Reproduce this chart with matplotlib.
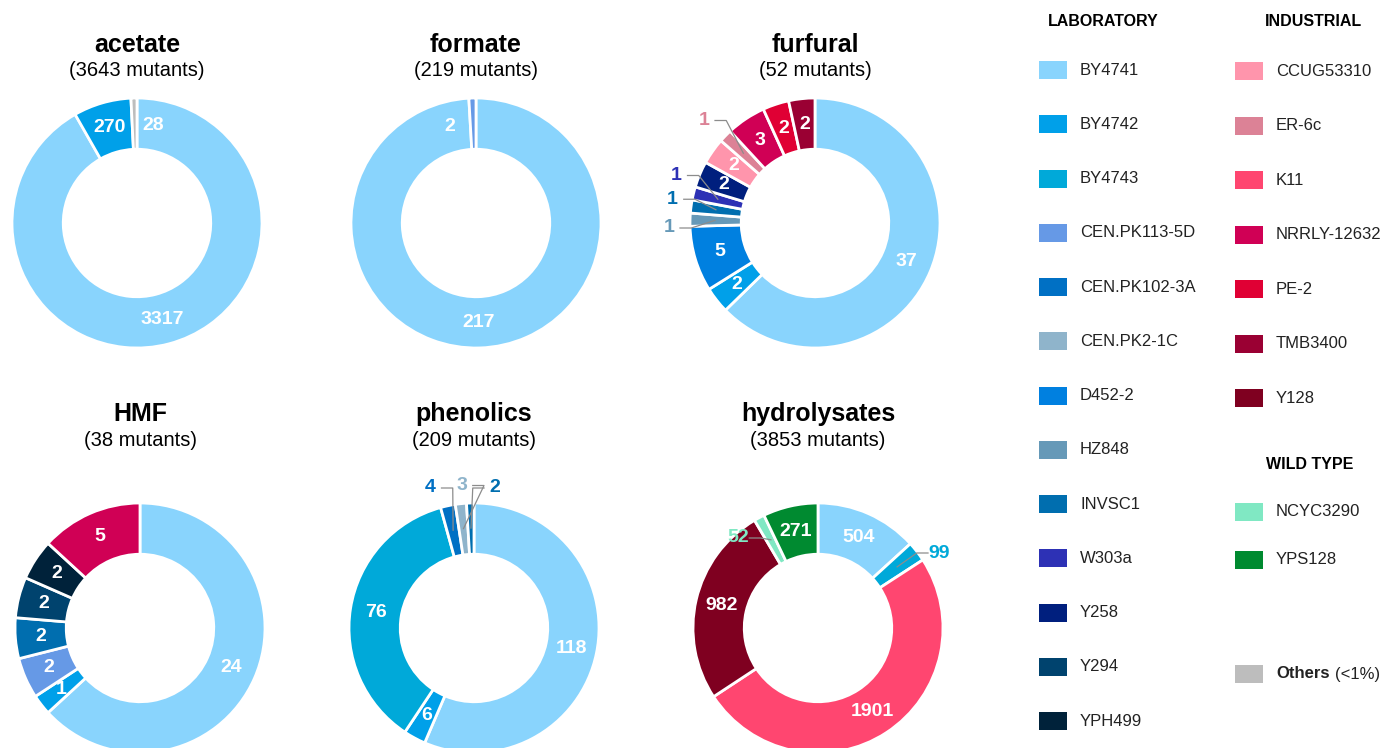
import numpy as np
import matplotlib.pyplot as plt
from matplotlib.patches import Rectangle

plt.rcParams['font.family'] = ['Liberation Sans', 'DejaVu Sans']

W, H = 1386, 748
R = 125  # outer radius of each donut, pixels

colors = {
    'BY4741': '#89d4fd', 'BY4742': '#00a0e9', 'BY4743': '#00a9d9',
    'CEN.PK113-5D': '#6699e6', 'CEN.PK102-3A': '#0070c4', 'CEN.PK2-1C': '#8fb4cb',
    'D452-2': '#0080e0', 'HZ848': '#6699b8', 'INVSC1': '#006eaf',
    'W303a': '#2d31b5', 'Y258': '#001f7e', 'Y294': '#00436e', 'YPH499': '#00223a',
    'CCUG53310': '#ff95ac', 'ER-6c': '#dc8296', 'K11': '#ff4670',
    'NRRLY-12632': '#d00055', 'PE-2': '#e00034', 'TMB3400': '#9a0033', 'Y128': '#7f0020',
    'NCYC3290': '#80e8c3', 'YPS128': '#008a30', 'Others': '#bdbdbd',
}

lab_strains = ['BY4741', 'BY4742', 'BY4743', 'CEN.PK113-5D', 'CEN.PK102-3A', 'CEN.PK2-1C',
               'D452-2', 'HZ848', 'INVSC1', 'W303a', 'Y258', 'Y294', 'YPH499']
ind_strains = ['CCUG53310', 'ER-6c', 'K11', 'NRRLY-12632', 'PE-2', 'TMB3400', 'Y128']
wild_strains = ['NCYC3290', 'YPS128']

# slices listed clockwise from 12 o'clock
acetate_strains = ['BY4741', 'BY4742', 'Others']
acetate_counts = [3317, 270, 28]

formate_strains = ['BY4741', 'CEN.PK113-5D']
formate_counts = [217, 2]

furfural_strains = ['BY4741', 'BY4742', 'D452-2', 'HZ848', 'INVSC1', 'W303a', 'Y258',
                    'CCUG53310', 'ER-6c', 'NRRLY-12632', 'PE-2', 'TMB3400']
furfural_counts = [37, 2, 5, 1, 1, 1, 2, 2, 1, 3, 2, 2]

hmf_strains = ['BY4741', 'BY4742', 'CEN.PK113-5D', 'INVSC1', 'Y294', 'YPH499', 'NRRLY-12632']
hmf_counts = [24, 1, 2, 2, 2, 2, 5]

phenolics_strains = ['BY4741', 'BY4742', 'BY4743', 'CEN.PK102-3A', 'CEN.PK2-1C', 'INVSC1']
phenolics_counts = [118, 6, 76, 4, 3, 2]

hydro_strains = ['BY4741', 'BY4743', 'K11', 'Y128', 'NCYC3290', 'YPS128']
hydro_counts = [504, 99, 1901, 982, 52, 271]

# label placement (donut units): slice index -> (x, y, outside with leader?)
charts = [
    ('acetate', 3643, (137, 223), acetate_strains, acetate_counts, {2: (0.13, 0.78, False)}),
    ('formate', 219, (476, 223), formate_strains, formate_counts, {1: (-0.21, 0.77, False)}),
    ('furfural', 52, (815, 223), furfural_strains, furfural_counts,
     {3: (-1.17, -0.04, True), 4: (-1.14, 0.19, True), 5: (-1.11, 0.38, True),
      8: (-0.89, 0.82, True)}),
    ('HMF', 38, (140, 628), hmf_strains, hmf_counts, {}),
    ('phenolics', 209, (474, 628), phenolics_strains, phenolics_counts,
     {3: (-0.35, 1.12, True), 4: (-0.1, 1.14, True), 5: (0.17, 1.12, True)}),
    ('hydrolysates', 3853, (818, 628), hydro_strains, hydro_counts,
     {4: (-0.64, 0.72, True), 1: (0.97, 0.6, True)}),
]

fig = plt.figure(figsize=(W / 100, H / 100), dpi=100)

half = 1.45
for name, total, (cx, cy), strains, counts, special in charts:
    size = 2 * half * R
    ax = fig.add_axes([(cx - size / 2) / W, 1 - (cy + size / 2) / H, size / W, size / H])
    ax.pie(counts, colors=[colors[s] for s in strains], startangle=90, counterclock=False,
           radius=1, wedgeprops=dict(width=0.41, edgecolor='white', linewidth=2))
    ax.set_xlim(-half, half)
    ax.set_ylim(-half, half)
    ax.set_aspect('equal')
    ax.axis('off')

    fracs = np.array(counts) / sum(counts)
    starts = 90 - 360 * np.concatenate([[0], np.cumsum(fracs)[:-1]])
    mids = np.radians(starts - 180 * fracs)
    for i, (s, c) in enumerate(zip(strains, counts)):
        if i in special:
            tx, ty, outside = special[i]
            if outside:
                ax.text(tx, ty, str(c), ha='center', va='center', fontsize=14,
                        fontweight='bold', color=colors[s])
                px, py = 0.8 * np.cos(mids[i]), 0.8 * np.sin(mids[i])
                d = 1 if px > tx else -1
                ax.plot([tx + d * 0.09, tx + d * 0.18, px], [ty, ty, py],
                        color='#8c8c8c', lw=0.9, clip_on=False)
            else:
                ax.text(tx, ty, str(c), ha='center', va='center', fontsize=14,
                        fontweight='bold', color='white')
        else:
            ax.text(0.795 * np.cos(mids[i]), 0.795 * np.sin(mids[i]), str(c),
                    ha='center', va='center', fontsize=14, fontweight='bold', color='white')

    top = cy < 400
    fig.text(cx / W, 1 - (45 if top else 414) / H, name, ha='center', va='center',
             fontsize=18, fontweight='bold')
    fig.text(cx / W, 1 - (71 if top else 441) / H, '(%d mutants)' % total,
             ha='center', va='center', fontsize=14.5)

# legend, drawn in pixel coordinates
leg = fig.add_axes([0, 0, 1, 1])
leg.set_xlim(0, W)
leg.set_ylim(H, 0)
leg.axis('off')


def key(x, y, strain, label=True):
    leg.add_patch(Rectangle((x, y - 9), 28, 18, facecolor=colors[strain], edgecolor='none'))
    if label:
        leg.text(x + 41, y, strain, ha='left', va='center', fontsize=12, color='#222222')


leg.text(1103, 21, 'LABORATORY', ha='center', va='center', fontsize=11.5, fontweight='bold')
leg.text(1313, 21, 'INDUSTRIAL', ha='center', va='center', fontsize=11.5, fontweight='bold')
leg.text(1310, 464, 'WILD TYPE', ha='center', va='center', fontsize=11.5, fontweight='bold')

for i, s in enumerate(lab_strains):
    key(1039, 70 + 54.25 * i, s)
for i, s in enumerate(ind_strains):
    key(1235, 71 + 54.5 * i, s)
for i, s in enumerate(wild_strains):
    key(1235, 512 + 48 * i, s)
key(1235, 674, 'Others', label=False)
t = leg.text(1276, 674, 'Others', ha='left', va='center', fontsize=12, fontweight='bold',
             color='#222222')
fig.canvas.draw()
bb = t.get_window_extent()
leg.text(bb.x1 + 5, 674, '(<1%)', ha='left', va='center', fontsize=12, color='#222222')

fig.savefig('out.png', dpi=100)
